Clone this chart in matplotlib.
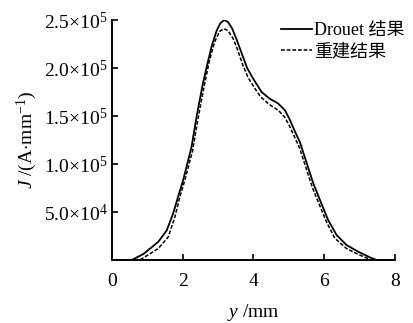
import matplotlib.pyplot as plt

plt.rcParams['font.family'] = ['Liberation Serif', 'Noto Sans CJK SC']
plt.rcParams['mathtext.fontset'] = 'custom'
plt.rcParams['mathtext.rm'] = 'Liberation Serif'
plt.rcParams['mathtext.it'] = 'Liberation Serif:italic'
plt.rcParams['mathtext.default'] = 'rm'

# Drouet result (solid)
y_drouet = [0, 0.56, 0.89, 1.31, 1.55, 1.73, 1.87, 2.01, 2.25, 2.39, 2.56, 2.67, 2.82, 2.96,
            3.06, 3.17, 3.28, 3.40, 3.52, 3.66, 3.82, 3.99, 4.23, 4.46, 4.70, 4.89, 5.03,
            5.17, 5.31, 5.69, 5.88, 6.11, 6.35, 6.63, 6.96, 7.29, 7.48, 8]
j_drouet = [0, 0, 6.3e3, 19e3, 31e3, 48.6e3, 66e3, 83e3, 118e3, 149e3, 182e3, 200e3, 223e3, 239e3,
            246.5e3, 250e3, 248e3, 241e3, 230e3, 216e3, 200e3, 189e3, 175e3, 168e3, 163e3, 156e3, 146e3,
            134e3, 123e3, 80e3, 62.5e3, 41.7e3, 26e3, 15.6e3, 8.7e3, 2.8e3, 0, 0]

# reconstructed result (dashed)
y_rebuild = [0, 0.79, 1.31, 1.59, 1.78, 1.92, 2.05, 2.28, 2.42, 2.60, 2.75, 2.90, 3.04, 3.16,
             3.28, 3.42, 3.55, 3.70, 3.85, 4.00, 4.20, 4.45, 4.70, 4.88, 5.00, 5.15, 5.30,
             5.67, 5.86, 6.06, 6.30, 6.63, 7.00, 7.34, 8]
j_rebuild = [0, 0, 12e3, 24e3, 45e3, 66e3, 82e3, 114e3, 145e3, 180e3, 207e3, 227e3, 238e3, 241e3,
             239e3, 231e3, 219e3, 203e3, 190e3, 181e3, 170e3, 162e3, 156e3, 149e3, 141e3, 129e3, 117e3,
             75e3, 58e3, 40e3, 22.6e3, 12e3, 5.2e3, 0, 0]

yticks = [5e4, 1e5, 1.5e5, 2e5, 2.5e5]
ytick_labels = [r'5.0$\times$10$^{4}$', r'1.0$\times$10$^{5}$', r'1.5$\times$10$^{5}$',
                r'2.0$\times$10$^{5}$', r'2.5$\times$10$^{5}$']
xticks = [0, 2, 4, 6, 8]

fig = plt.figure(figsize=(4.14, 3.23), dpi=100)
ax = fig.add_axes([0.2705, 0.195, 0.6835, 0.743])

ax.plot(y_drouet, j_drouet, color='black', lw=1.3, label='Drouet 结果')
ax.plot(y_rebuild, j_rebuild, color='black', lw=1.1, dashes=(2.5, 1.2), label='重建结果')

ax.set_xlim(0, 8)
ax.set_ylim(0, 2.5e5)
ax.set_xticks(xticks)
ax.set_xticklabels([str(t) for t in xticks])
ax.set_yticks(yticks)
ax.set_yticklabels(ytick_labels)
ax.tick_params(direction='in', length=4, width=1.2, labelsize=14, colors='black')
ax.tick_params(axis='x', pad=9)
ax.tick_params(axis='y', pad=3)

for s in ['top', 'right']:
    ax.spines[s].set_visible(False)
for s in ['left', 'bottom']:
    ax.spines[s].set_linewidth(1.4)

ax.set_xlabel(r'$\mathit{y}$ /mm', fontsize=14, labelpad=9)
ax.set_ylabel(r'$\mathit{J}$ /(A$\cdot$mm$^{-1}$)', fontsize=14, labelpad=4)

leg = ax.legend(loc='upper right', bbox_to_anchor=(1.09, 1.06), frameon=False,
                fontsize=13, handlelength=1.7, handletextpad=0.1, labelspacing=0.25)

fig.savefig('out.png', dpi=100)
